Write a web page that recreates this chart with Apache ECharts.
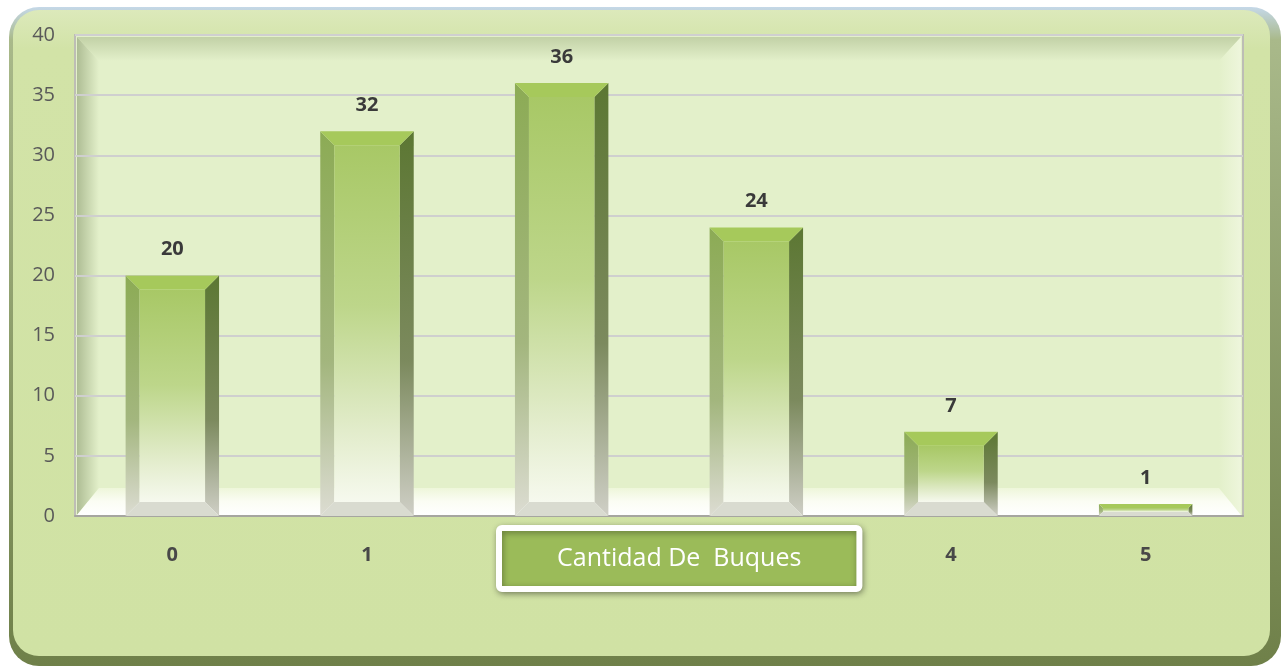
<!DOCTYPE html>
<html>
<head>
<meta charset="utf-8">
<script src="https://cdn.jsdelivr.net/npm/echarts@6/dist/echarts.min.js"></script>
<style>html,body{margin:0;padding:0;background:#fff;}#main{width:1283px;height:667px;}</style>
</head>
<body>
<div id="main"></div>
<script>
var categories = ['0', '1', '2', '3', '4', '5'];
var values = [20, 32, 36, 24, 7, 1];
var yTicks = [0, 5, 10, 15, 20, 25, 30, 35, 40];
var seriesName = 'Cantidad De  Buques';

var chart = echarts.init(document.getElementById('main'));
var GL = 75, GT = 35, GR = 1243, GB = 516;

function vgrad(stops) {
  return new echarts.graphic.LinearGradient(0, 0, 0, 1, stops.map(function (s) { return { offset: s[0], color: s[1] }; }));
}
function hgrad(stops) {
  return new echarts.graphic.LinearGradient(0, 0, 1, 0, stops.map(function (s) { return { offset: s[0], color: s[1] }; }));
}

function renderBar(params, api) {
  var i = api.value(0), v = api.value(1);
  var top = api.coord([i, v]), base = api.coord([i, 0]);
  var w = api.size([1, 0])[0] * 0.48;
  var cx = top[0], x0 = cx - w / 2, x1 = cx + w / 2, yt = top[1], yb = base[1];
  var h = yb - yt;
  var b = Math.min(14, h / 3);
  var children = [
    { type: 'polygon', shape: { points: [[x0, yt], [x0 + b, yt + b], [x0 + b, yb - b], [x0, yb]] },
      style: { fill: vgrad([[0, '#8cab55'], [0.6, '#a3b67e'], [1, '#dcdcd2']]) } },
    { type: 'polygon', shape: { points: [[x1, yt], [x1, yb], [x1 - b, yb - b], [x1 - b, yt + b]] },
      style: { fill: vgrad([[0, '#5c7733'], [0.6, '#7c8a5e'], [1, '#cfcfc6']]) } },
    { type: 'polygon', shape: { points: [[x0, yb], [x0 + b, yb - b], [x1 - b, yb - b], [x1, yb]] },
      style: { fill: '#d9dbd0' } },
    { type: 'rect', shape: { x: x0 + b, y: yt + b, width: w - 2 * b, height: Math.max(0, h - 2 * b) },
      style: { fill: vgrad([[0, '#a8c866'], [0.45, '#bdd68a'], [0.8, '#e2eccb'], [1, '#f6f9ee']]) } },
    { type: 'polygon', shape: { points: [[x0, yt], [x1, yt], [x1 - b, yt + b], [x0 + b, yt + b]] },
      style: { fill: '#a6c95b' } },
    { type: 'text', style: { text: String(v), x: cx, y: yt - 26, align: 'center', verticalAlign: 'middle',
      font: 'bold 20px "Open Sans", sans-serif', fill: '#3a3a3a' } }
  ];
  return { type: 'group', children: children };
}

var option = {
  animation: false,
  graphic: [
    { type: 'rect', z: -20, shape: { x: 9, y: 7, width: 1272, height: 659, r: 30 },
      style: { fill: vgrad([[0, '#c5d8e8'], [0.05, '#a9b98a'], [1, '#6f8049']]) } },
    { type: 'rect', z: -19, shape: { x: 13, y: 10, width: 1257, height: 646, r: 26 },
      style: { fill: vgrad([[0, '#dce9bb'], [0.06, '#d2e3a7'], [1, '#d0e2a4']]) } },
    { type: 'rect', z: -18, shape: { x: GL, y: GT, width: GR - GL, height: GB - GT },
      style: { fill: '#e3f0ca', stroke: '#bdbdb5', lineWidth: 2 } },
    { type: 'polygon', z: -17, shape: { points: [[GL + 2, GT + 2], [GR - 2, GT + 2], [GR - 24, GT + 26], [GL + 24, GT + 26]] },
      style: { fill: vgrad([[0, '#c2d1a6'], [1, '#e3f0ca']]) } },
    { type: 'polygon', z: -17, shape: { points: [[GL + 2, GT + 2], [GL + 24, GT + 26], [GL + 24, GB - 28], [GL + 2, GB - 1]] },
      style: { fill: hgrad([[0, '#aebd94'], [1, '#e3f0ca']]) } },
    { type: 'polygon', z: -17, shape: { points: [[GR - 2, GT + 2], [GR - 2, GB - 1], [GR - 24, GB - 28], [GR - 24, GT + 26]] },
      style: { fill: hgrad([[0, '#e3f0ca'], [1, '#eef6dc']]) } },
    { type: 'polygon', z: -17, shape: { points: [[GL + 24, GB - 28], [GR - 24, GB - 28], [GR - 2, GB - 1], [GL + 2, GB - 1]] },
      style: { fill: vgrad([[0, '#eef6da'], [0.5, '#fbfdf4'], [1, '#ffffff']]) } }
  ],
  grid: { left: GL, top: GT, right: 1283 - GR, bottom: 667 - GB, containLabel: false },
  legend: {
    left: 499, top: 528,
    data: [{ name: seriesName, icon: 'none' }],
    itemWidth: 0, itemHeight: 0, itemGap: 0,
    padding: [18, 58, 18, 53],
    backgroundColor: '#9bbb59',
    borderColor: '#ffffff', borderWidth: 6, borderRadius: 3,
    shadowBlur: 6, shadowColor: 'rgba(0,0,0,0.35)', shadowOffsetX: 1, shadowOffsetY: 2,
    textStyle: { color: '#ffffff', fontSize: 25, fontFamily: '"Open Sans", sans-serif' }
  },
  xAxis: {
    type: 'category', data: categories,
    axisLine: { show: true, lineStyle: { color: '#a6a6a0', width: 2 } },
    axisTick: { show: false },
    axisLabel: { margin: 29, fontSize: 20, fontWeight: 'bold', color: '#484848', fontFamily: '"Open Sans", sans-serif' }
  },
  yAxis: {
    type: 'value', min: yTicks[0], max: yTicks[yTicks.length - 1], interval: yTicks[1] - yTicks[0],
    axisLine: { show: false }, axisTick: { show: false },
    axisLabel: { margin: 20, fontSize: 20, color: '#595959', fontFamily: '"Open Sans", sans-serif' },
    splitLine: { lineStyle: { color: '#cfcfcf', width: 2 } }
  },
  series: [{
    type: 'custom', name: seriesName,
    renderItem: renderBar,
    encode: { x: 0, y: 1 },
    data: values.map(function (v, i) { return [i, v]; }),
    z: 3
  }]
};
chart.setOption(option);
</script>
</body>
</html>
